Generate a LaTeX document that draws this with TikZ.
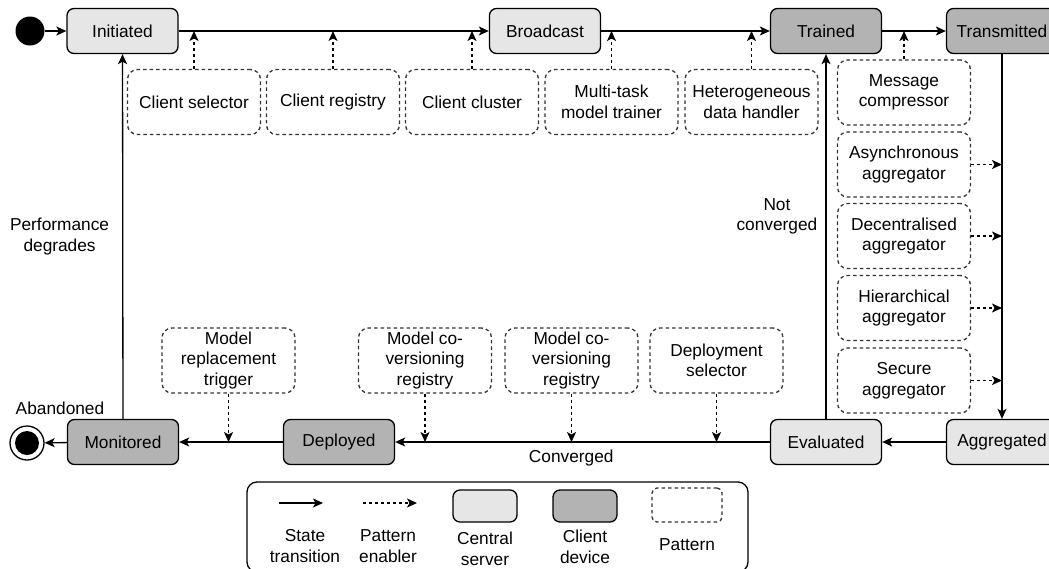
\documentclass[tikz,border=0pt]{standalone}
\usepackage{fontspec}
\setmainfont{Liberation Sans}
\usetikzlibrary{arrows.meta,positioning,calc}
\definecolor{srvgray}{HTML}{E6E6E6}
\definecolor{cltgray}{HTML}{B3B3B3}
\definecolor{ptngray}{HTML}{333333}

\begin{document}
\begin{tikzpicture}[x=1pt, y=-1pt, line width=1.3pt, font=\fontsize{17.3}{20.5}\selectfont,
  >={Stealth[length=10pt,width=9pt,inset=2.5pt]},
  lbl/.style={align=center, inner sep=0pt},
  enb/.style={->, dashed, dash pattern=on 3pt off 3pt}]
\tikzstyle{srv}=[draw, rounded corners=7pt, fill=srvgray, minimum width=111pt, minimum height=45pt]
\tikzstyle{clt}=[srv, fill=cltgray]
\tikzstyle{ptn}=[draw=ptngray, dashed, dash pattern=on 3.5pt off 3pt, rounded corners=10pt, align=center, minimum width=133pt, minimum height=65pt, inner sep=2pt]
\useasboundingbox (0,0) rectangle (1049,568);

% states
\node[circle, fill=black, minimum size=29pt, inner sep=0pt] (start) at (30,31) {};
\node[srv] (init) at (122.5,31) {Initiated};
\node[srv] (bcast) at (545,31) {Broadcast};
\node[clt] (train) at (826,31) {Trained};
\node[clt] (trans) at (1002,31) {Transmitted};
\node[srv] (aggr) at (1002,442) {Aggregated};
\node[srv] (eval) at (826,442) {Evaluated};
\node[clt] (depl) at (339,442) {Deployed};
\node[clt] (mon) at (123,442) {Monitored};
\node[circle, draw, minimum size=34pt, inner sep=0pt] (end) at (27,443) {};
\fill (end.center) circle (12pt);
\node[lbl] (endlbl) at (60,408) {Abandoned};

% transitions
\foreach \i/\j in {start/init, init/bcast, bcast/train, train/trans, trans/aggr, aggr/eval, depl/mon, mon/end}{\draw[->] (\i) -- (\j);}
\draw[->] (eval) -- node[lbl, pos=0.53, yshift=-16pt]{Converged} (depl);
\draw[->] (mon) -- node[lbl, left=13pt]{Performance\\degrades} (init);
\draw[->] (eval) -- node[lbl, pos=0.555, left=8pt]{Not\\converged} (train);

% patterns
\foreach \n/\x/\t in {cs/194/{Client selector}, cr/333/{Client registry}, cc/472/{Client cluster}, mt/611.5/{Multi-task\\model trainer}, hd/751.5/{Heterogeneous\\data handler}}{
  \node[ptn] (\n) at (\x,102) {\t};
  \draw[enb] (\n.north) -- (\n.north |- init.east);}
\node[ptn] (mc) at (904,92.5) {Message\\compressor};
\draw[enb] (mc.north) -- (mc.north |- train.east);
\foreach \n/\y/\t in {aa/164.5/Asynchronous, da/236/Decentralised, ha/308/Hierarchical, sa/380.5/Secure}{
  \node[ptn] (\n) at (904,\y) {\t\\aggregator};
  \draw[enb] (\n.east) -- (\n.east -| trans.south);}
\foreach \n/\x/\t in {mr/228.5/{Model\\replacement\\trigger}, mv/425/{Model co-\\versioning\\registry}, mw/571.5/{Model co-\\versioning\\registry}, ds/716.5/{Deployment\\selector}}{
  \node[ptn] (\n) at (\x,360.5) {\t};
  \draw[enb] (\n.south) -- (\n.south |- depl.west);}

% legend
\draw[rounded corners=10pt] (247,482) rectangle (748,572);
\coordinate (la1) at (279,503);
\coordinate (la2) at (323,503);
\coordinate (lb1) at (363,503);
\coordinate (lb2) at (417,503);
\draw[->] (la1) -- (la2);
\draw[enb] (lb1) -- (lb2);
\node[srv, minimum width=64pt, minimum height=32pt] (lsrv) at (485,506) {};
\node[clt, minimum width=64pt, minimum height=32pt] (lclt) at (585,506) {};
\node[ptn, rounded corners=5pt, minimum width=70pt, minimum height=34pt] (lptn) at (687,505) {};
\node[lbl] (ta) at (305,546) {State\\transition};
\node[lbl] (tb) at (388,546) {Pattern\\enabler};
\node[lbl] (tc) at (485,549) {Central\\server};
\node[lbl] (td) at (585,547) {Client\\device};
\node[lbl] (te) at (687,545) {Pattern};
\end{tikzpicture}
\end{document}
